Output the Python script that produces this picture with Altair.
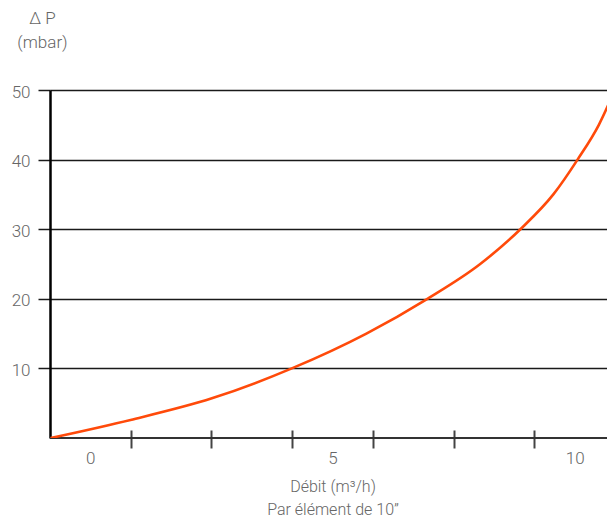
import altair as alt
import pandas as pd

# Curve (flow in m³/h, pressure drop in mbar)
FLOW = [-0.82, 0.83, 2.51, 4.16, 5.70, 6.96, 8.05, 8.88, 9.56, 10.06, 10.50, 10.83]
DP = [0.0, 2.6, 5.7, 10.0, 15.0, 20.0, 25.0, 30.0, 35.0, 40.0, 45.0, 50.0]

X_DOMAIN = [-0.833, 10.668]
X_TICKS = [0.833, 2.5, 4.167, 5.833, 7.5, 9.167]
X_LABELS = [0, 5, 10]
Y_TICKS = [10, 20, 30, 40, 50]

TXT = "#666666"
FONT = "Roboto"

df = pd.DataFrame({"q": FLOW, "dp": DP})

is_label = "indexof([0,5,10], datum.value) >= 0"

x_enc = alt.X(
    "q:Q",
    scale=alt.Scale(domain=X_DOMAIN, nice=False, zero=False),
    axis=alt.Axis(
        values=X_TICKS + X_LABELS,
        labelExpr=f"{is_label} ? datum.label : ''",
        tickOpacity={"condition": {"test": is_label, "value": 0}, "value": 1},
        tickSize=18,
        tickWidth=2,
        tickColor="#444444",
        offset=-8,
        domain=False,
        grid=False,
        labelFont=FONT,
        labelFontSize=17,
        labelFontWeight=300,
        labelColor=TXT,
        labelPadding=2,
        labelFlush=False,
        title=["Débit (m³/h)", "Par élément de 10”"],
        titleFont=FONT,
        titleFontSize=16,
        titleFontWeight=300,
        titleColor=TXT,
        titleX=282.5,
        titleY=56,
        titleBaseline="middle",
        titleAlign="center",
        titleLineHeight=23,
    ),
)

y_enc = alt.Y(
    "dp:Q",
    scale=alt.Scale(domain=[0, 50], nice=False),
    axis=alt.Axis(
        values=Y_TICKS,
        grid=True,
        gridColor="#1a1a1a",
        gridWidth=1.5,
        tickSize=12,
        tickColor="#1a1a1a",
        tickWidth=1.5,
        domain=True,
        domainColor="#000000",
        domainWidth=2.5,
        labelFont=FONT,
        labelFontSize=17,
        labelFontWeight=300,
        labelColor=TXT,
        labelPadding=8,
        labelOffset=2,
        title=["Δ P", "(mbar)"],
        titleFont=FONT,
        titleFontSize=17,
        titleFontWeight=300,
        titleColor=TXT,
        titleAngle=0,
        titleX=-8,
        titleY=-72,
        titleAlign="center",
        titleBaseline="middle",
        titleLineHeight=24,
    ),
)

curve = alt.Chart(df).mark_line(
    color="#ff4a0a", strokeWidth=2.6, interpolate="monotone", clip=True
).encode(x=x_enc, y=y_enc)

baseline = alt.Chart(pd.DataFrame({"y0": [0]})).mark_rule(
    color="#333333", strokeWidth=2
).encode(y=alt.Y("y0:Q"))

chart = (
    alt.layer(baseline, curve)
    .properties(
        width=557,
        height=348,
        autosize=alt.AutoSizeParams(type="none"),
        padding={"left": 42, "top": 82, "right": 0, "bottom": 81},
    )
    .configure_view(stroke=None)
)

chart.save("out.html", embed_options={"renderer": "svg", "actions": False})
